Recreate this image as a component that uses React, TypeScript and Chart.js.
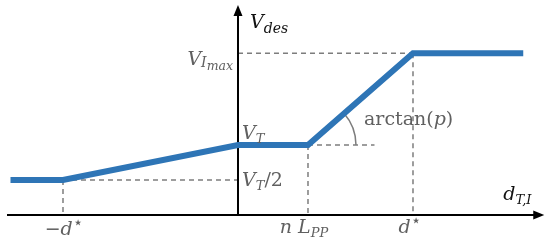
import React, { useEffect, useRef } from "react";
import { Chart, registerables } from "chart.js";

Chart.register(...registerables);

// ---- data (arbitrary units) ----
const D_STAR = 1;
const N_LPP = 0.4;
const V_T = 1;
const V_IMAX = 2.31;
const X_LEFT = -1.3;
const X_RIGHT = 1.63;
const curveX = [X_LEFT, -D_STAR, 0, N_LPP, D_STAR, X_RIGHT];
const curveY = [V_T / 2, V_T / 2, V_T, V_T, V_IMAX, V_IMAX];
const AXIS_X_MIN = -1.32;
const AXIS_X_MAX = 1.75;
const AXIS_Y_MAX = 3.0;
const ANGLE_REF_END = 0.78;
const X_MIN = -1.36;
const X_MAX = 1.7829;
const Y_MIN = -0.443;
const Y_MAX = 3.071;

type Seg = { t: string; size: number; italic?: boolean; dy?: number; font?: string };
const SERIF = '"DejaVu Serif", serif';
const BLACK = "#111111";
const GRAY = "#606060";
const DASH = "#7d7d7d";
const BLUE = "#2E75B6";
const STAR_FONT = '"DejaVu Sans", sans-serif';

function fontOf(s: Seg) {
  return `${s.italic ? "italic " : ""}${s.size}px ${s.font || SERIF}`;
}

function drawRich(ctx: CanvasRenderingContext2D, segs: Seg[], x: number, y: number, align: "left" | "right" | "center", color: string) {
  ctx.save();
  ctx.textAlign = "left";
  ctx.textBaseline = "alphabetic";
  ctx.fillStyle = color;
  let w = 0;
  for (const s of segs) {
    ctx.font = fontOf(s);
    w += ctx.measureText(s.t).width;
  }
  let cx = align === "left" ? x : align === "right" ? x - w : x - w / 2;
  for (const s of segs) {
    ctx.font = fontOf(s);
    ctx.fillText(s.t, cx, y + (s.dy || 0));
    cx += ctx.measureText(s.t).width;
  }
  ctx.restore();
}

const diagramPlugin = {
  id: "diagram",
  beforeDatasetsDraw(chart: any) {
    const ctx: CanvasRenderingContext2D = chart.ctx;
    const xs = chart.scales.x;
    const ys = chart.scales.y;
    const px = (v: number) => xs.getPixelForValue(v);
    const py = (v: number) => ys.getPixelForValue(v);
    const x0 = px(0);
    const y0 = py(0);

    // dashed guides
    ctx.save();
    ctx.strokeStyle = DASH;
    ctx.lineWidth = 1.5;
    ctx.setLineDash([5, 4]);
    const seg = (a: number, b: number, c: number, d: number) => {
      ctx.beginPath();
      ctx.moveTo(a, b);
      ctx.lineTo(c, d);
      ctx.stroke();
    };
    seg(x0, py(V_IMAX), px(D_STAR), py(V_IMAX));
    seg(px(D_STAR), py(V_IMAX), px(D_STAR), y0);
    seg(px(-D_STAR), py(V_T / 2), x0, py(V_T / 2));
    seg(px(-D_STAR), py(V_T / 2), px(-D_STAR), y0);
    seg(px(N_LPP), py(V_T), px(N_LPP), y0);
    seg(px(N_LPP), py(V_T), px(ANGLE_REF_END), py(V_T));
    ctx.restore();

    // angle arc
    ctx.save();
    ctx.strokeStyle = DASH;
    ctx.lineWidth = 1.5;
    const cxp = px(N_LPP);
    const cyp = py(V_T);
    const theta = Math.atan2(py(V_T) - py(V_IMAX), px(D_STAR) - px(N_LPP));
    ctx.beginPath();
    ctx.arc(cxp, cyp, 48, -theta, 0);
    ctx.stroke();
    ctx.restore();

    // axes with arrows
    ctx.save();
    ctx.strokeStyle = "#000";
    ctx.fillStyle = "#000";
    ctx.lineWidth = 2;
    ctx.beginPath();
    ctx.moveTo(px(AXIS_X_MIN), y0);
    ctx.lineTo(px(AXIS_X_MAX) - 8, y0);
    ctx.moveTo(x0, y0);
    ctx.lineTo(x0, py(AXIS_Y_MAX) + 8);
    ctx.stroke();
    const tx = px(AXIS_X_MAX);
    ctx.beginPath();
    ctx.moveTo(tx, y0);
    ctx.lineTo(tx - 11, y0 - 4.5);
    ctx.lineTo(tx - 11, y0 + 4.5);
    ctx.closePath();
    ctx.fill();
    const ty = py(AXIS_Y_MAX);
    ctx.beginPath();
    ctx.moveTo(x0, ty);
    ctx.lineTo(x0 - 4.5, ty + 11);
    ctx.lineTo(x0 + 4.5, ty + 11);
    ctx.closePath();
    ctx.fill();
    ctx.restore();
  },
  afterDatasetsDraw(chart: any) {
    const ctx: CanvasRenderingContext2D = chart.ctx;
    const xs = chart.scales.x;
    const ys = chart.scales.y;
    const px = (v: number) => xs.getPixelForValue(v);
    const py = (v: number) => ys.getPixelForValue(v);
    const x0 = px(0);
    const y0 = py(0);
    const B = 19;
    const S = 13;

    drawRich(ctx, [
      { t: "V", size: B, italic: true },
      { t: "des", size: 14, italic: true, dy: 5 },
    ], x0 + 12, py(AXIS_Y_MAX) + 23, "left", BLACK);

    drawRich(ctx, [
      { t: "d", size: B, italic: true },
      { t: "T,I", size: S, italic: true, dy: 4 },
    ], px(AXIS_X_MAX) - 41, y0 - 15, "left", BLACK);

    drawRich(ctx, [
      { t: "V", size: B, italic: true },
      { t: "I", size: 14, italic: true, dy: 2 },
      { t: "max", size: 12.5, italic: true, dy: 5 },
    ], x0 - 5, py(V_IMAX) + 12, "right", GRAY);

    drawRich(ctx, [
      { t: "V", size: B, italic: true },
      { t: "T", size: S, italic: true, dy: 4 },
    ], x0 + 4, py(V_T) - 6, "left", GRAY);

    drawRich(ctx, [
      { t: "V", size: B, italic: true },
      { t: "T", size: S, italic: true, dy: 4 },
      { t: "/2", size: B },
    ], x0 + 4, py(V_T / 2) + 6, "left", GRAY);

    drawRich(ctx, [
      { t: "arctan(", size: B },
      { t: "p", size: B, italic: true },
      { t: ")", size: B },
    ], px(N_LPP) + 56, py(V_T) - 20, "left", GRAY);

    drawRich(ctx, [
      { t: "\u2212", size: B },
      { t: "d", size: B, italic: true },
      { t: "\u22C6", size: 17, dy: -7, font: STAR_FONT },
    ], px(-D_STAR) + 1, y0 + 20, "center", GRAY);

    drawRich(ctx, [
      { t: "n ", size: B, italic: true },
      { t: "L", size: B, italic: true },
      { t: "PP", size: S, italic: true, dy: 4 },
    ], px(N_LPP) - 4, y0 + 18, "center", GRAY);

    drawRich(ctx, [
      { t: "d", size: B, italic: true },
      { t: "\u22C6", size: 17, dy: -7, font: STAR_FONT },
    ], px(D_STAR) - 3, y0 + 18, "center", GRAY);
  },
};

export default function App() {
  const ref = useRef<HTMLCanvasElement | null>(null);
  useEffect(() => {
    if (!ref.current) return;
    const chart = new Chart(ref.current, {
      type: "line",
      data: {
        datasets: [
          {
            data: curveX.map((x, i) => ({ x, y: curveY[i] })),
            borderColor: BLUE,
            borderWidth: 6,
            pointRadius: 0,
            borderCapStyle: "butt",
            borderJoinStyle: "miter",
            tension: 0,
            fill: false,
          },
        ],
      },
      options: {
        responsive: false,
        animation: false,
        layout: { padding: 0 },
        plugins: { legend: { display: false }, tooltip: { enabled: false } },
        events: [],
        scales: {
          x: { type: "linear", min: X_MIN, max: X_MAX, display: false },
          y: { type: "linear", min: Y_MIN, max: Y_MAX, display: false },
        },
      },
      plugins: [diagramPlugin],
    } as any);
    return () => chart.destroy();
  }, []);
  return (
    <div style={{ position: "fixed", left: 0, top: 0, width: 550, height: 246, background: "#fff" }}>
      <canvas ref={ref} width={550} height={246} style={{ display: "block" }} />
    </div>
  );
}
